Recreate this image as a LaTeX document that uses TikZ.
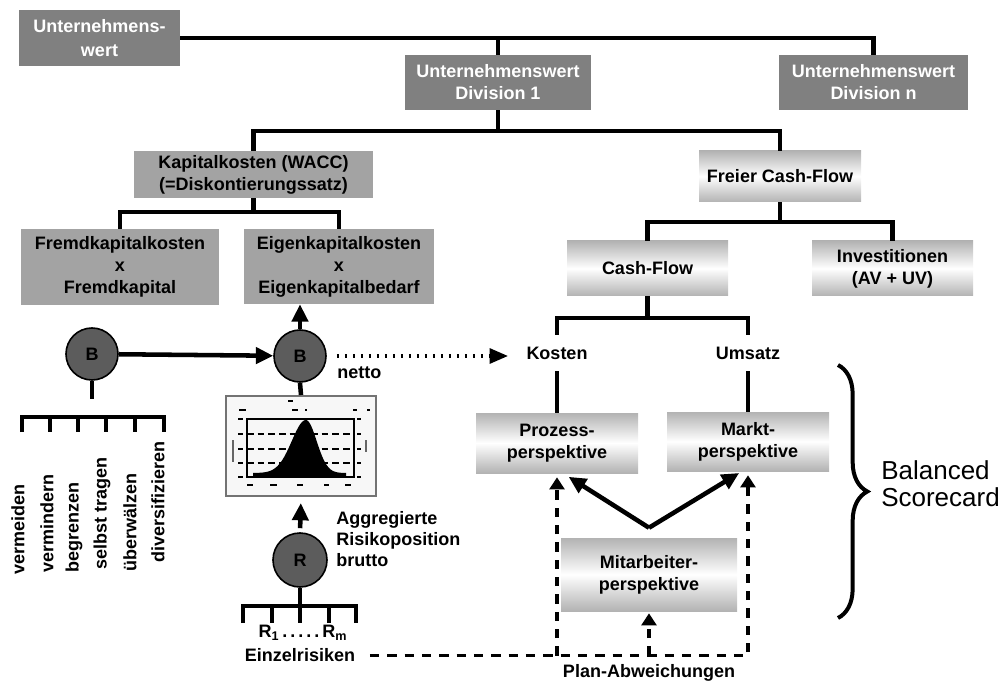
\documentclass[tikz,border=0pt]{standalone}
\usepackage{fontspec}
\setmainfont{Liberation Sans}
\usetikzlibrary{arrows.meta,decorations.pathreplacing}

\begin{document}
\begin{tikzpicture}[x=0.75pt, y=-0.75pt,
    every node/.style={font=\fontsize{13.5}{16.5}\selectfont\bfseries},
    darkbox/.style={fill=black!50, text=white, align=center, inner sep=0pt},
    lightbox/.style={fill=black!36, align=center, inner sep=0pt},
    shadebox/.style={top color=black!30, bottom color=black!30, middle color=white, align=center, inner sep=0pt},
    ball/.style={circle, fill=black!64, draw=black, line width=1.2pt, minimum size=39pt, inner sep=0pt},
    link/.style={line width=3.4pt},
    arr/.style={line width=3.4pt, -{Triangle[length=13pt,width=12pt]}},
    dasharr/.style={line width=2.8pt, dash pattern=on 7pt off 6pt, -{Triangle[length=9pt,width=11pt]}},
    dotarr/.style={line width=3pt, dash pattern=on 1.5pt off 4.5pt, -{Triangle[length=14pt,width=11pt]}}
]
    \useasboundingbox (0,0) rectangle (1004,681);

    % Value tree
    \node[darkbox, minimum width=120.75pt, minimum height=42pt, font=\fontsize{13.5}{18}\selectfont\bfseries] (uw) at (99.5,38) {Unternehmens-\\wert};
    \node[darkbox, minimum width=139.5pt, minimum height=41.25pt] (div1) at (498,82.5) {Unternehmenswert\\Division 1};
    \node[darkbox, minimum width=141.75pt, minimum height=41.25pt] (divn) at (873.5,82.5) {Unternehmenswert\\Division n};
    \node[lightbox, minimum width=179.25pt, minimum height=35.25pt] (kap) at (253.5,174.5) {Kapitalkosten (WACC)\\(=Diskontierungssatz)};
    \node[lightbox, minimum width=148.5pt, minimum height=57pt] (fremd) at (120,267) {Fremdkapitalkosten\\x\\Fremdkapital};
    \node[lightbox, minimum width=142.5pt, minimum height=56.25pt] (eigen) at (339,266.5) {Eigenkapitalkosten\\x\\Eigenkapitalbedarf};
    \node[shadebox, minimum width=121.5pt, minimum height=38.25pt] (fcf) at (780,176.5) {Freier Cash-Flow};
    \node[shadebox, minimum width=120.75pt, minimum height=41.25pt] (cf) at (647.5,268.5) {Cash-Flow};
    \node[shadebox, minimum width=120.75pt, minimum height=41.25pt] (inv) at (892.5,268.5) {Investitionen\\(AV + UV)};
    \node[inner sep=0pt, minimum height=27pt] (kosten) at (557,353) {Kosten};
    \node[inner sep=0pt, minimum height=27pt] (umsatz) at (748,353) {Umsatz};

    \draw[link] (uw.east) -| (divn.north);
    \draw[link] (div1.north) -- (div1.north |- uw.east);
    \coordinate (j1) at (498,131);
    \draw[link] (div1.south) -- (j1);
    \draw[link] (kap.north) |- (j1) -| (fcf.north);
    \coordinate (j2) at (253.5,212);
    \draw[link] (kap.south) -- (j2);
    \draw[link] (fremd.north) |- (j2) -| (eigen.north);
    \coordinate (j3) at (780,222);
    \draw[link] (fcf.south) -- (j3);
    \draw[link] (cf.north) |- (j3) -| (inv.north);
    \coordinate (j4) at (647.5,318);
    \draw[link] (cf.south) -- (j4);
    \draw[link] (kosten.north) |- (j4) -| (umsatz.north);

    % Risk side
    \node[ball] (bL) at (92,354) {B};
    \node[ball] (bR) at (300,356) {B};
    \node[ball, minimum size=40.5pt] (rR) at (300,560) {R};
    \node[draw=black!55, line width=1.5pt, fill=black!3, minimum width=112.5pt, minimum height=75pt, inner sep=0pt] (hist) at (301,446) {};
    \node[anchor=west, inner sep=0pt] (netto) at (337,373) {netto};
    \node[anchor=west, align=left, inner sep=0pt, font=\fontsize{13.5}{15.75}\selectfont\bfseries] (agg) at (336,539) {Aggregierte\\Risikoposition\\brutto};
    \node[inner sep=0pt] (rlist) at (303,633) {R\textsubscript{1}\,.\,.\,.\,.\,.\,R\textsubscript{m}};
    \node[inner sep=0pt] (ein) at (300,655.5) {Einzelrisiken};

    \draw[arr] (bL) -- (bR);
    \draw[arr] (bR.north) -- (bR.north |- eigen.south);
    \draw[link] (bR.south) -- (hist.north);
    \draw[arr, shorten <=3pt, shorten >=4.5pt] (rR.north) -- (hist.south);
    \draw[dotarr, shorten <=7.5pt, shorten >=13.5pt] (bR.east) -- (bR.east -| kosten.west);

    % Histogram
    \draw[line width=0.9pt] (247,419) rectangle (354,477);
    \foreach \y in {434,449,463} {
        \draw[line width=1pt, dash pattern=on 5pt off 3pt] (247,\y) -- (354,\y);
    }
    \fill (253,477) -- plot[domain=253:306, samples=40] (\x,{473-53*exp(-((\x-306)/20)^2)})
        -- plot[domain=306:346, samples=30] (\x,{473-53*exp(-((\x-306)/15)^2)}) -- (346,477) -- cycle;
    \foreach \y in {419,434,449,463,477} {
        \draw[line width=0.9pt] (238,\y) -- (243,\y);
        \draw[line width=0.9pt] (357,\y) -- (361,\y);
    }
    \foreach \a/\b in {247/253,270/277,297/303,324/329,345/351} {
        \draw[line width=0.9pt] (\a,485) -- (\b,485);
    }
    \foreach \a/\b in {239/246,292/298,305/307,353/357,367/370} {
        \draw[line width=0.9pt] (\a,410) -- (\b,410);
    }
    \draw[line width=0.9pt] (288,401) -- (293,401);
    \draw[line width=0.9pt, black!60] (233,440) -- (233,462);
    \draw[line width=0.9pt, black!60] (366,440) -- (366,452);

    % Measures below left B
    \draw[link] (bL.south) -- ++(0,18);
    \draw[link] (22,432) -- (22,417) -- (164,417) -- (164,432);
    \foreach \x in {50,78,106,135} {
        \draw[link] (\x,417) -- (\x,432);
    }
    \foreach \x/\yb/\t in {18/575/vermeiden, 47/573/vermindern, 74/573/begrenzen, 102/570/selbst tragen, 130/572/überwälzen, 158/563/diversifizieren} {
        \node[rotate=90, anchor=west, inner sep=0pt] (act\x) at (\x,\yb) {\t};
    }

    % Single risks
    \draw[link] (rR.south) -- (300,606);
    \draw[link] (243,623) -- (243,606) -- (356,606) -- (356,623);
    \foreach \x in {272,300,329} {
        \draw[link] (\x,606) -- (\x,623);
    }

    % Balanced Scorecard
    \node[shadebox, minimum width=121.5pt, minimum height=45pt] (proz) at (557,443) {Prozess-\\perspektive};
    \node[shadebox, minimum width=121.5pt, minimum height=44.25pt] (markt) at (748,441.5) {Markt-\\perspektive};
    \node[shadebox, minimum width=132pt, minimum height=54.75pt] (mit) at (649,574.5) {Mitarbeiter-\\perspektive};
    \node[inner sep=0pt] (plan) at (649,672.5) {Plan-Abweichungen};
    \node[anchor=west, align=left, inner sep=0pt, font=\fontsize{19.5}{20.25}\selectfont] (bsc) at (881,484) {Balanced\\Scorecard};

    \draw[link] (kosten.south) -- (proz.north);
    \draw[link] (umsatz.south) -- (markt.north);
    \coordinate (apex) at ([yshift=7.5pt]mit.north);
    \draw[arr, shorten >=5pt] (apex) -- ([xshift=4.5pt]proz.south);
    \draw[arr, shorten >=2.5pt] (apex) -- ([xshift=-4.5pt]markt.south);
    \draw[dasharr, shorten <=11pt, shorten >=3pt] (ein.east) -| (markt.south);
    \draw[dasharr, shorten >=3pt] (proz.south |- ein.east) -- (proz.south);
    \draw[dasharr, shorten >=1.5pt] (mit.south |- ein.east) -- (mit.south);
    \draw[line width=3pt, decorate, decoration={brace, amplitude=22pt, aspect=0.5}] (838,365) -- (838,618);
\end{tikzpicture}
\end{document}
